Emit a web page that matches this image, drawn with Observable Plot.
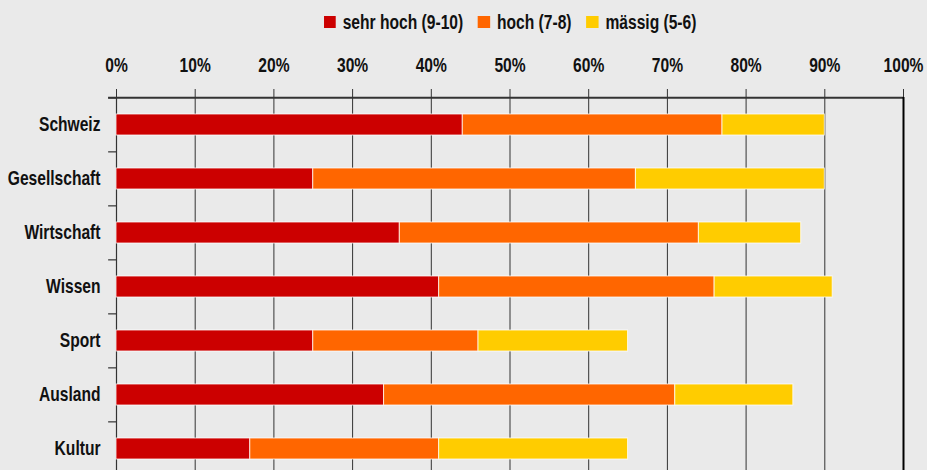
<!DOCTYPE html>
<html>
<head>
<meta charset="utf-8">
<script src="https://cdn.jsdelivr.net/npm/d3@7"></script>
<script src="https://cdn.jsdelivr.net/npm/@observablehq/plot@0.6"></script>
<style>
  html, body { margin: 0; padding: 0; background: #eaeaea; }
  body { width: 927px; overflow: hidden; font-family: "Liberation Sans", Arial, sans-serif; }
  #legend { height: 40px; box-sizing: border-box; padding: 4px 24px 0 116px; display: flex; justify-content: center; align-items: center; gap: 19px; font-weight: bold; font-size: 20px; color: #111; transform: scaleX(0.78); transform-origin: 512px 50%; }
  #legend .item { display: flex; align-items: center; gap: 9px; white-space: nowrap; }
  #legend .sw { width: 15.4px; height: 12px; display: inline-block; }
  svg { display: block; }
</style>
</head>
<body>
<div id="legend"></div>
<div id="chart"></div>
<script>
const categories = ["Schweiz", "Gesellschaft", "Wirtschaft", "Wissen", "Sport", "Ausland", "Kultur"];
const levels = ["sehr hoch (9-10)", "hoch (7-8)", "mässig (5-6)"];
const colors = ["#cc0000", "#ff6600", "#ffcc00"];
const sehrHoch = [44, 25, 36, 41, 25, 34, 17];
const hoch = [33, 41, 38, 35, 21, 37, 24];
const maessig = [13, 24, 13, 15, 19, 15, 24];
const tickValues = [0, 10, 20, 30, 40, 50, 60, 70, 80, 90, 100];

const series = [sehrHoch, hoch, maessig];
const data = [];
categories.forEach((c, i) => {
  levels.forEach((l, j) => data.push({cat: c, level: l, value: series[j][i]}));
});

// legend
const legend = document.getElementById("legend");
levels.forEach((l, j) => {
  const it = document.createElement("span");
  it.className = "item";
  const sw = document.createElement("span");
  sw.className = "sw";
  sw.style.background = colors[j];
  it.appendChild(sw);
  it.appendChild(document.createTextNode(l));
  legend.appendChild(it);
});

const width = 927, height = 437, marginTop = 57, marginBottom = 0, marginLeft = 116, marginRight = 24;
const step = (height - marginTop - marginBottom) / categories.length;
const pad = 0.61;
const font = '"Liberation Sans", Arial, sans-serif';

const chart = Plot.plot({
  width, height, marginTop, marginBottom, marginLeft, marginRight,
  style: {background: "transparent", fontFamily: font, color: "#111", overflow: "visible"},
  x: {domain: [0, 100]},
  y: {domain: categories, paddingInner: pad, paddingOuter: pad / 2, align: 0.5},
  color: {domain: levels, range: colors},
  marks: [
    Plot.ruleX(tickValues.slice(1, -1), {stroke: "#333", strokeWidth: 1}),
    Plot.ruleX([0], {stroke: "#333", strokeWidth: 1.2}),
    Plot.ruleY(categories, {y: d => d, x1: -1, x2: 0, dy: -step / 2, stroke: "#333", strokeWidth: 1.2}),
    Plot.ruleY([categories[0]], {y: d => d, x1: -1, x2: 100, dy: -step / 2, stroke: "#333", strokeWidth: 2}),
    Plot.axisX({anchor: "top", ticks: tickValues, tickSize: 9, tickPadding: 17, tickFormat: d => d + "%", fontSize: 20, fontWeight: "bold", stroke: "#333", label: null}),
    Plot.axisY({anchor: "left", tickSize: 0, tickPadding: 16, fontSize: 20, fontWeight: "bold", label: null}),
    Plot.barX(data, Plot.stackX({x: "value", y: "cat", fill: "level", order: levels, stroke: "#fff", strokeOpacity: 0.75, strokeWidth: 1})),
    Plot.ruleX([100], {stroke: "#000", strokeWidth: 2})
  ]
});

// condense all texts horizontally around their anchor point
d3.select(chart).selectAll("text").each(function () {
  const t = d3.select(this);
  const xa = t.attr("x");
  const x = xa != null && isFinite(+xa) ? +xa : 0;
  if (xa != null && isFinite(+xa)) t.attr("x", null);
  t.attr("transform", (t.attr("transform") || "") + ` translate(${x},0) scale(0.78,1)`);
});
document.getElementById("chart").appendChild(chart);
</script>
</body>
</html>
